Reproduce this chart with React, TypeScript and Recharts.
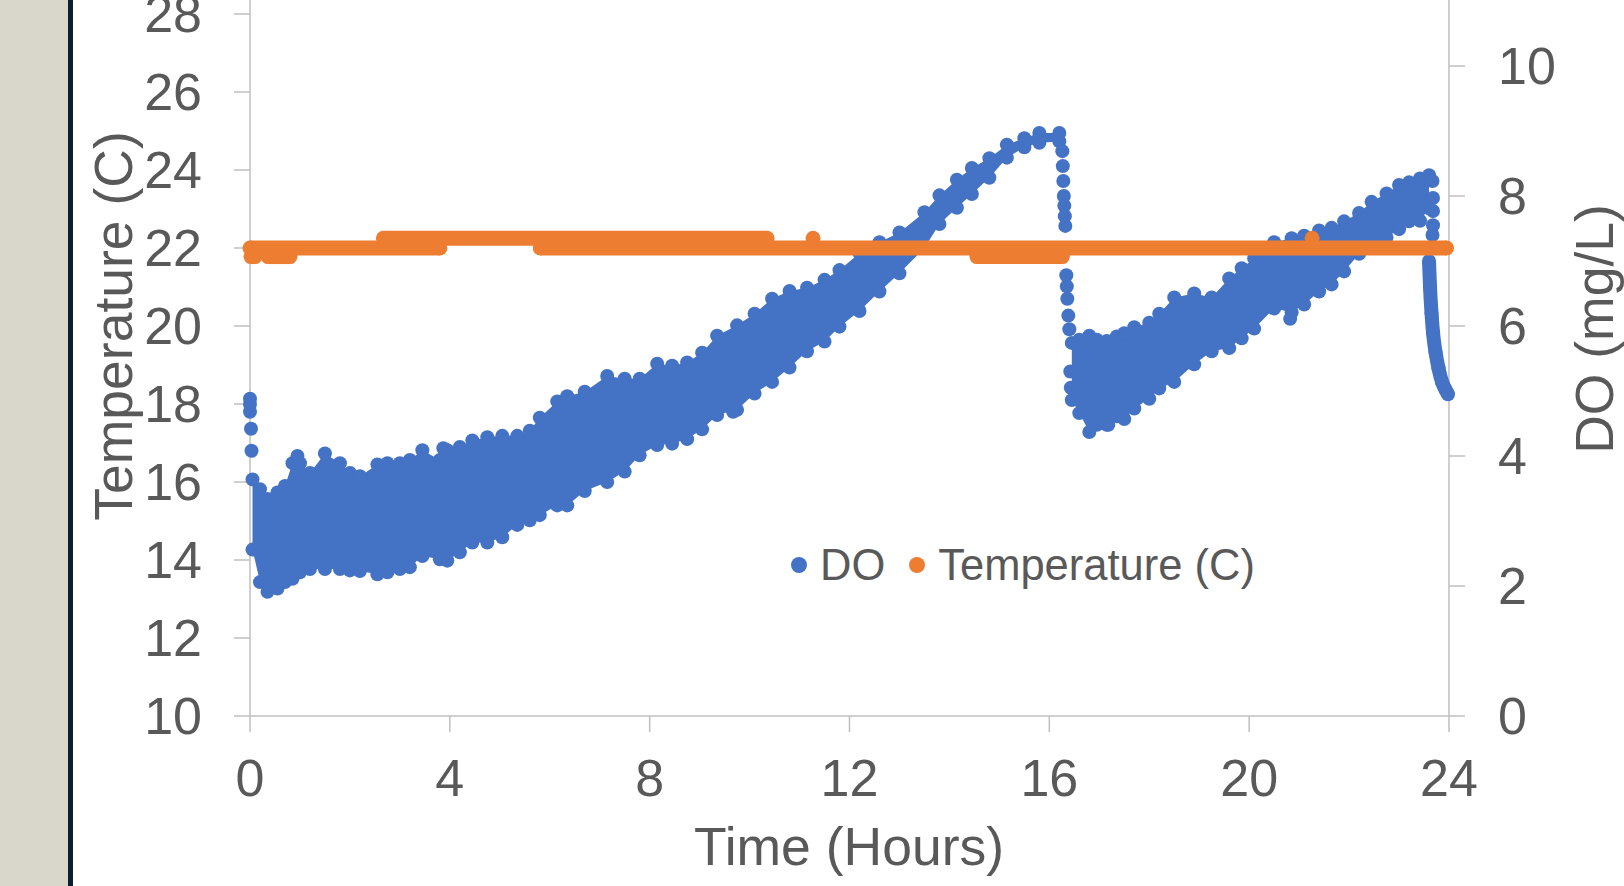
import React from "react";
import { ComposedChart, XAxis, YAxis, Area, Scatter, Legend } from "recharts";

const BLUE = "#4472C4";
const ORANGE = "#ED7D31";
const TEXT = "#595959";
const AXIS = "#BFBFBF";
const FONT = '"Liberation Sans", Arial, sans-serif';

const HOUR_TICKS = [0, 4, 8, 12, 16, 20, 24];
const TEMP_TICKS = [10, 12, 14, 16, 18, 20, 22, 24, 26, 28];
const DO_TICKS = [0, 2, 4, 6, 8, 10];

// DO cloud before the 16 h drop: upper / lower edge of the point cloud (mg/L)
const DO_A_TIME = [0.05, 0.2, 0.35, 0.55, 0.7, 0.85, 1.0, 1.2, 1.5, 1.8, 2.0, 2.2, 2.55, 2.75, 3.0, 3.2, 3.45, 3.8, 3.95, 4.2, 4.45, 4.75, 5.05, 5.35, 5.6, 5.8, 6.15, 6.35, 6.7, 7.15, 7.5, 7.8, 8.15, 8.45, 8.75, 9.05, 9.35, 9.75, 10.1, 10.45, 10.8, 11.15, 11.5, 11.8, 12.2, 12.6, 13.0, 13.5, 13.8, 14.15, 14.45, 14.8, 15.15, 15.5, 15.8, 16.2];
const DO_A_HIGH = [3.64, 3.49, 3.34, 3.44, 3.54, 3.89, 3.89, 3.74, 4.04, 3.89, 3.74, 3.69, 3.87, 3.89, 3.89, 3.94, 4.09, 3.94, 4.09, 4.14, 4.24, 4.29, 4.31, 4.31, 4.39, 4.59, 4.84, 4.92, 4.99, 5.23, 5.19, 5.19, 5.42, 5.39, 5.44, 5.59, 5.85, 6.01, 6.19, 6.42, 6.54, 6.59, 6.71, 6.86, 7.12, 7.29, 7.44, 7.75, 8.01, 8.25, 8.43, 8.58, 8.79, 8.89, 8.97, 8.97];
const DO_A_LOW = [2.56, 2.06, 1.91, 1.96, 2.06, 2.11, 2.21, 2.26, 2.26, 2.26, 2.24, 2.23, 2.18, 2.21, 2.26, 2.29, 2.46, 2.41, 2.39, 2.52, 2.67, 2.67, 2.75, 2.94, 3.01, 3.09, 3.24, 3.24, 3.46, 3.6, 3.76, 4.01, 4.17, 4.19, 4.26, 4.41, 4.63, 4.71, 4.96, 5.14, 5.36, 5.61, 5.76, 5.99, 6.23, 6.53, 6.81, 7.2, 7.57, 7.82, 8.03, 8.28, 8.59, 8.75, 8.82, 8.84];

// DO cloud after the drop
const DO_B_TIME = [16.45, 16.6, 16.8, 16.95, 17.15, 17.35, 17.5, 17.7, 18.0, 18.2, 18.5, 18.9, 19.25, 19.6, 19.85, 20.1, 20.5, 20.85, 21.1, 21.4, 21.65, 21.9, 22.2, 22.45, 22.75, 23.0, 23.2, 23.42, 23.6];
const DO_B_HIGH = [5.74, 5.79, 5.85, 5.79, 5.77, 5.84, 5.89, 5.98, 6.05, 6.19, 6.44, 6.5, 6.44, 6.73, 6.89, 7.04, 7.29, 7.35, 7.39, 7.47, 7.51, 7.61, 7.74, 7.91, 8.04, 8.17, 8.21, 8.27, 8.32];
const DO_B_LOW = [4.86, 4.66, 4.37, 4.48, 4.48, 4.61, 4.57, 4.73, 4.88, 5.04, 5.14, 5.41, 5.61, 5.66, 5.81, 5.96, 6.27, 6.21, 6.33, 6.53, 6.64, 6.84, 7.11, 7.2, 7.36, 7.49, 7.61, 7.62, 7.81];

// single readings outside the cloud
const DO_START_TIME = [0, 0, 0, 0.02, 0.03];
const DO_START_VALUE = [4.88, 4.8, 4.68, 4.42, 4.08];
const DO_DROP_TIME = [16.26, 16.27, 16.28, 16.29, 16.3, 16.31, 16.32, 16.34, 16.35, 16.36, 16.38, 16.4, 16.42, 16.43];
const DO_DROP_VALUE = [8.69, 8.46, 8.23, 8.0, 7.85, 7.69, 7.54, 6.78, 6.61, 6.42, 6.16, 5.95, 5.3, 5.05];
const DO_BEAD_TIME = [23.67, 23.68, 23.68, 23.68, 23.67];
const DO_BEAD_VALUE = [8.23, 7.97, 7.77, 7.55, 7.4];
const DO_TAIL_TIME = [23.6, 23.62, 23.65, 23.68, 23.73, 23.79, 23.86, 23.93, 23.98];
const DO_TAIL_VALUE = [7.0, 6.6, 6.2, 5.9, 5.6, 5.35, 5.14, 5.02, 4.95];
const DO_STRAY_TIME = [0.95, 3.87, 9.67, 17.18, 20.82];
const DO_STRAY_VALUE = [4.0, 4.12, 4.68, 4.48, 6.11];

// temperature holds steady: runs of equal readings
const TEMP_RUN_START = [0, 5.81, 0.02, 0.36, 2.67, 14.55];
const TEMP_RUN_END = [3.8, 23.95, 0.1, 0.8, 10.35, 16.26];
const TEMP_RUN_VALUE = [22.0, 22.0, 21.78, 21.78, 22.25, 21.78];
const TEMP_STRAY_TIME = [11.27, 21.26];
const TEMP_STRAY_VALUE = [22.25, 22.25];

const pts = (ts: number[], vs: number[]) => ts.map((t, i) => ({ t, v: vs[i] }));
const band = (ts: number[], lo: number[], hi: number[]) => ts.map((t, i) => ({ t, band: [lo[i], hi[i]] }));

const bandA = band(DO_A_TIME, DO_A_LOW, DO_A_HIGH);
const bandB = band(DO_B_TIME, DO_B_LOW, DO_B_HIGH);
const doEdges = [
  ...pts(DO_A_TIME, DO_A_HIGH),
  ...pts(DO_A_TIME, DO_A_LOW),
  ...pts(DO_B_TIME, DO_B_HIGH),
  ...pts(DO_B_TIME, DO_B_LOW),
  ...pts(DO_START_TIME, DO_START_VALUE),
  ...pts(DO_DROP_TIME, DO_DROP_VALUE),
  ...pts(DO_BEAD_TIME, DO_BEAD_VALUE),
  ...pts(DO_STRAY_TIME, DO_STRAY_VALUE),
];
const doTail = pts(DO_TAIL_TIME, DO_TAIL_VALUE);
const tempRuns = TEMP_RUN_START.map((s, i) => [
  { t: s, v: TEMP_RUN_VALUE[i] },
  { t: TEMP_RUN_END[i], v: TEMP_RUN_VALUE[i] },
]);
const tempStray = pts(TEMP_STRAY_TIME, TEMP_STRAY_VALUE);

const dot = (color: string, r: number) => (p: any) => <circle cx={p.cx} cy={p.cy} r={r} fill={color} />;

const tickStyle = { fill: TEXT, fontSize: 52, fontFamily: FONT };
const lineStyle = { stroke: AXIS, strokeWidth: 1.5 };

function LegendBox() {
  const item = (color: string, label: string, gap: number) => (
    <span style={{ display: "inline-flex", alignItems: "center", marginRight: gap }}>
      <span style={{ width: 16, height: 16, borderRadius: 8, background: color, marginRight: 13, display: "inline-block" }} />
      {label}
    </span>
  );
  return (
    <div style={{ display: "flex", alignItems: "center", fontSize: 43.5, lineHeight: "50px", height: 50, color: TEXT, fontFamily: FONT, whiteSpace: "nowrap" }}>
      {item(BLUE, "DO", 24)}
      {item(ORANGE, "Temperature (C)", 0)}
    </div>
  );
}

const title: React.CSSProperties = {
  position: "absolute",
  fontSize: 53.5,
  color: TEXT,
  fontFamily: FONT,
  whiteSpace: "nowrap",
  lineHeight: "54px",
};

export default function App() {
  return (
    <div style={{ position: "absolute", left: 0, top: 0, width: 1624, height: 886, overflow: "hidden", background: "#FFFFFF" }}>
      <div style={{ position: "absolute", left: 0, top: 0, width: 68, height: 886, background: "#D9D7CB" }} />
      <div style={{ position: "absolute", left: 68, top: 0, width: 5, height: 886, background: "#0C1F30" }} />
      <div style={{ position: "absolute", left: 0, top: -100 }}>
        <ComposedChart width={1624} height={964} margin={{ top: 36, right: 0, bottom: 0, left: 0 }}>
          <XAxis
            type="number"
            dataKey="t"
            domain={[0, 24]}
            ticks={HOUR_TICKS}
            interval={0}
            height={148}
            tickSize={16}
            tickMargin={27}
            tick={tickStyle}
            axisLine={lineStyle}
            tickLine={lineStyle}
          />
          <YAxis
            yAxisId="temp"
            orientation="left"
            type="number"
            domain={[10, 30]}
            ticks={TEMP_TICKS}
            interval={0}
            width={250}
            tickSize={16}
            tickMargin={32}
            tick={tickStyle}
            axisLine={lineStyle}
            tickLine={lineStyle}
          />
          <YAxis
            yAxisId="do"
            orientation="right"
            type="number"
            domain={[0, 12]}
            ticks={DO_TICKS}
            interval={0}
            width={175}
            tickSize={16}
            tickMargin={33}
            tick={tickStyle}
            axisLine={lineStyle}
            tickLine={lineStyle}
          />
          <Area yAxisId="do" data={bandA} dataKey="band" type="linear" stroke="none" fill={BLUE} fillOpacity={1} dot={false} activeDot={false} isAnimationActive={false} />
          <Area yAxisId="do" data={bandB} dataKey="band" type="linear" stroke="none" fill={BLUE} fillOpacity={1} dot={false} activeDot={false} isAnimationActive={false} />
          <Scatter yAxisId="do" data={doEdges} dataKey="v" fill={BLUE} shape={dot(BLUE, 7)} isAnimationActive={false} />
          <Scatter yAxisId="do" data={doTail} dataKey="v" fill={BLUE} shape={dot(BLUE, 7)} line={{ stroke: BLUE, strokeWidth: 14 }} lineJointType="monotoneX" isAnimationActive={false} />
          {tempRuns.map((run, i) => (
            <Scatter
              key={i}
              yAxisId="temp"
              data={run}
              dataKey="v"
              fill={ORANGE}
              shape={dot(ORANGE, 7.5)}
              line={{ stroke: ORANGE, strokeWidth: 15 }}
              isAnimationActive={false}
            />
          ))}
          <Scatter yAxisId="temp" data={tempStray} dataKey="v" fill={ORANGE} shape={dot(ORANGE, 7.5)} isAnimationActive={false} />
          <Legend
            layout="horizontal"
            verticalAlign="middle"
            align="center"
            content={() => <LegendBox />}
            wrapperStyle={{ left: 791, top: 640, width: "auto" }}
          />
        </ComposedChart>
      </div>
      <div style={{ ...title, left: 114, top: 326, transform: "translate(-50%, -50%) rotate(-90deg)" }}>Temperature (C)</div>
      <div style={{ ...title, left: 1595, top: 329, transform: "translate(-50%, -50%) rotate(-90deg)" }}>DO (mg/L)</div>
      <div style={{ ...title, left: 849, top: 847, transform: "translate(-50%, -50%)" }}>Time (Hours)</div>
    </div>
  );
}
